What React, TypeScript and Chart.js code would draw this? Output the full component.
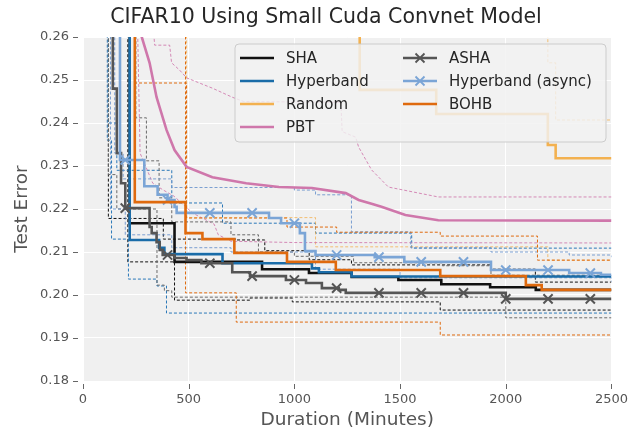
import React, { useEffect, useRef } from "react";
import { Chart, registerables } from "chart.js";

Chart.register(...registerables);

// Best test error reached so far against wall-clock minutes.
// Each curve is a step function given by its change points (minute, error):
// the error holds from one change point until the next one.
// Values above 0.26 sit outside the plotted window and are clipped.

const SHA_MIN = [0, 221, 433, 847, 1069, 1271, 1492, 1695, 1926, 2142, 2500];
const SHA_ERR = [0.27, 0.2167, 0.2077, 0.206, 0.2051, 0.2042, 0.2035, 0.2025, 0.2018, 0.2012, 0.2012];
const SHA_HI_MIN = [0, 120, 380, 725, 860, 1070, 1270, 1930, 2140, 2500];
const SHA_HI_ERR = [0.27, 0.2178, 0.213, 0.2128, 0.2103, 0.2082, 0.207, 0.206, 0.203, 0.203];
const SHA_LO_MIN = [0, 212, 433, 790, 990, 1690, 2500];
const SHA_LO_ERR = [0.27, 0.2077, 0.1988, 0.1993, 0.1984, 0.1965, 0.1965];

const HB_MIN = [0, 221, 360, 385, 660, 1083, 1116, 1271, 2500];
const HB_ERR = [0.27, 0.2128, 0.211, 0.2095, 0.2074, 0.2062, 0.2053, 0.2043, 0.2043];
const HB_HI_MIN = [0, 120, 160, 420, 660, 1100, 1555, 2500];
const HB_HI_ERR = [0.27, 0.24, 0.229, 0.2214, 0.2167, 0.2144, 0.2109, 0.2109];
const HB_LO_MIN = [0, 115, 135, 215, 350, 395, 2500];
const HB_LO_ERR = [0.27, 0.236, 0.213, 0.2037, 0.2021, 0.1958, 0.1958];

const RND_MIN = [0, 1309, 1671, 2199, 2236, 2500];
const RND_ERR = [0.27, 0.2477, 0.2421, 0.2349, 0.2318, 0.2318];
const RND_HI_MIN = [0, 2199, 2236, 2500];
const RND_HI_ERR = [0.27, 0.254, 0.2407, 0.2407];
const RND_LO_MIN = [0, 490, 1100, 2199, 2500];
const RND_LO_ERR = [0.27, 0.218, 0.2112, 0.2081, 0.2081];

const PBT_MIN = [215, 278, 315, 348, 395, 433, 490, 612, 772, 927, 1083, 1243, 1304, 1365, 1412, 1525, 1681, 2500];
const PBT_ERR = [0.27, 0.26, 0.254, 0.246, 0.2384, 0.2337, 0.2298, 0.2274, 0.226, 0.2251, 0.2249, 0.2237, 0.2221, 0.2212, 0.2205, 0.2186, 0.2174, 0.2173];
const PBT_HI_MIN = [320, 339, 410, 419, 457, 490, 612, 706, 760, 1220, 1226, 1290, 1304, 1365, 1445, 1681, 2500];
const PBT_HI_ERR = [0.27, 0.2581, 0.2581, 0.254, 0.2523, 0.2505, 0.2481, 0.246, 0.245, 0.2448, 0.238, 0.2367, 0.2344, 0.2291, 0.2251, 0.2228, 0.2228];
const PBT_LO_MIN = [255, 270, 330, 380, 430, 520, 620, 640, 700, 1000, 2500];
const PBT_LO_ERR = [0.27, 0.233, 0.226, 0.2244, 0.223, 0.219, 0.2165, 0.214, 0.2125, 0.2122, 0.2121];

const ASHA_MIN = [0, 141, 160, 180, 200, 315, 325, 348, 363, 377, 433, 490, 560, 706, 790, 960, 1055, 1130, 1210, 1243, 2000, 2500];
const ASHA_ERR = [0.27, 0.248, 0.233, 0.226, 0.2202, 0.2158, 0.2144, 0.2123, 0.2105, 0.2093, 0.2086, 0.2081, 0.2074, 0.2053, 0.2044, 0.2035, 0.2028, 0.2016, 0.2012, 0.2005, 0.1991, 0.1991];
const ASHA_HI_MIN = [0, 250, 300, 360, 420, 700, 830, 1000, 1280, 1700, 1930, 2500];
const ASHA_HI_ERR = [0.27, 0.2412, 0.2312, 0.2226, 0.217, 0.214, 0.21, 0.209, 0.2075, 0.2068, 0.2046, 0.2046];
const ASHA_LO_MIN = [0, 120, 160, 350, 385, 420, 1930, 2000, 2500];
const ASHA_LO_ERR = [0.27, 0.228, 0.22, 0.2023, 0.201, 0.1995, 0.1995, 0.1947, 0.1947];

const ASYNC_MIN = [0, 175, 290, 353, 400, 433, 443, 880, 937, 1026, 1050, 1100, 1380, 1520, 1930, 2300, 2450, 2500];
const ASYNC_ERR = [0.27, 0.2314, 0.2253, 0.2233, 0.2221, 0.2205, 0.2191, 0.2179, 0.2167, 0.2144, 0.2102, 0.2093, 0.2088, 0.2077, 0.2058, 0.2051, 0.2047, 0.2047];
const ASYNC_HI_MIN = [0, 150, 190, 420, 1000, 1100, 1270, 1550, 1930, 2300, 2500];
const ASYNC_HI_ERR = [0.27, 0.233, 0.227, 0.225, 0.2244, 0.2233, 0.2147, 0.211, 0.21, 0.2093, 0.2088];
const ASYNC_LO_MIN = [0, 130, 200, 420, 700, 1100, 1500, 2500];
const ASYNC_LO_ERR = [0.27, 0.22, 0.214, 0.211, 0.21, 0.206, 0.204, 0.203];

const BOHB_MIN = [0, 245, 485, 565, 716, 965, 1196, 1690, 2095, 2170, 2500];
const BOHB_ERR = [0.27, 0.2216, 0.2144, 0.213, 0.2098, 0.2077, 0.2058, 0.2044, 0.2023, 0.2012, 0.2012];
const BOHB_HI_MIN = [0, 245, 490, 965, 1200, 1690, 2150, 2500];
const BOHB_HI_ERR = [0.27, 0.2493, 0.2179, 0.2158, 0.2146, 0.2137, 0.2081, 0.2081];
const BOHB_LO_MIN = [0, 485, 725, 1690, 2500];
const BOHB_LO_ERR = [0.27, 0.2005, 0.1937, 0.1907, 0.1907];

// Minutes at which the asynchronous methods carry an "x" marker.
const MARK_MIN = [200, 400, 600, 800, 1000, 1200, 1400, 1600, 1800, 2000, 2200, 2400];

const X_TICKS = [0, 500, 1000, 1500, 2000, 2500];
const Y_TICKS = [0.18, 0.19, 0.2, 0.21, 0.22, 0.23, 0.24, 0.25, 0.26];

const TITLE = "CIFAR10 Using Small Cuda Convnet Model";
const X_LABEL = "Duration (Minutes)";
const Y_LABEL = "Test Error";

const FONT = "'DejaVu Sans', 'Liberation Sans', sans-serif";

const C = {
  sha: "#111111",
  hb: "#1a6ca8",
  rnd: "rgba(243,170,62,0.9)",
  pbt: "#cf77ab",
  asha: "#555555",
  async: "#7ba5d6",
  bohb: "#df6a0e",
};

const LEGEND = [
  { label: "SHA", color: C.sha, marker: false },
  { label: "Hyperband", color: C.hb, marker: false },
  { label: "Random", color: C.rnd, marker: false },
  { label: "PBT", color: C.pbt, marker: false },
  { label: "ASHA", color: C.asha, marker: true },
  { label: "Hyperband (async)", color: C.async, marker: true },
  { label: "BOHB", color: C.bohb, marker: false },
];

const pts = (xs: number[], ys: number[]) => xs.map((x, i) => ({ x, y: ys[i] }));

const stepAt = (xs: number[], ys: number[], t: number) => {
  let v = ys[0];
  for (let i = 0; i < xs.length; i++) if (xs[i] <= t) v = ys[i];
  return v;
};

// Chart.js "before" stepping: horizontal run first, then the drop at the change point.
const mainLine = (label: string, xs: number[], ys: number[], color: string, stepped = true) => ({
  label,
  data: pts(xs, ys),
  borderColor: color,
  borderWidth: 2.6,
  stepped: stepped ? ("before" as const) : false,
  pointRadius: 0,
  fill: false,
});

const bound = (xs: number[], ys: number[], color: string, stepped = true) => ({
  label: "",
  data: pts(xs, ys),
  borderColor: color,
  borderWidth: 1,
  borderDash: [3, 2],
  stepped: stepped ? ("before" as const) : false,
  pointRadius: 0,
  fill: false,
});

const markers = (xs: number[], ys: number[], color: string) => ({
  label: "",
  data: MARK_MIN.map((m) => ({ x: m, y: stepAt(xs, ys, m) })),
  showLine: false,
  borderColor: color,
  backgroundColor: color,
  pointStyle: "crossRot" as const,
  pointRadius: 6.5,
  pointBorderWidth: 2,
});

const decor = {
  id: "decor",
  beforeDraw(chart: any) {
    const { ctx, chartArea: a } = chart;
    ctx.save();
    ctx.fillStyle = "#f0f0f0";
    ctx.fillRect(a.left, a.top, a.right - a.left, a.bottom - a.top);
    ctx.restore();
  },
  afterDraw(chart: any) {
    const { ctx, chartArea: a, scales } = chart;
    ctx.save();

    // title
    ctx.fillStyle = "#262626";
    ctx.font = `20.5px ${FONT}`;
    ctx.textAlign = "center";
    ctx.textBaseline = "middle";
    ctx.fillText(TITLE, 326, 18);

    // tick marks
    ctx.strokeStyle = "#666666";
    ctx.lineWidth = 1;
    for (const v of Y_TICKS) {
      const y = Math.round(scales.y.getPixelForValue(v)) + 0.5;
      ctx.beginPath();
      ctx.moveTo(a.left - 10, y);
      ctx.lineTo(a.left - 5, y);
      ctx.stroke();
    }
    for (const v of X_TICKS) {
      const x = Math.round(scales.x.getPixelForValue(v)) + 0.5;
      ctx.beginPath();
      ctx.moveTo(x, a.bottom + 3);
      ctx.lineTo(x, a.bottom + 8);
      ctx.stroke();
    }

    // legend
    const lx = a.left + 152;
    const ly = a.top + 7;
    const lw = 371;
    const lh = 98;
    const r = 4;
    ctx.beginPath();
    ctx.moveTo(lx + r, ly);
    ctx.lineTo(lx + lw - r, ly);
    ctx.quadraticCurveTo(lx + lw, ly, lx + lw, ly + r);
    ctx.lineTo(lx + lw, ly + lh - r);
    ctx.quadraticCurveTo(lx + lw, ly + lh, lx + lw - r, ly + lh);
    ctx.lineTo(lx + r, ly + lh);
    ctx.quadraticCurveTo(lx, ly + lh, lx, ly + lh - r);
    ctx.lineTo(lx, ly + r);
    ctx.quadraticCurveTo(lx, ly, lx + r, ly);
    ctx.closePath();
    ctx.fillStyle = "rgba(242,242,242,0.82)";
    ctx.fill();
    ctx.strokeStyle = "rgba(200,200,200,0.9)";
    ctx.stroke();

    ctx.font = `15px ${FONT}`;
    ctx.textAlign = "left";
    ctx.textBaseline = "middle";
    LEGEND.forEach((item, i) => {
      const col = i < 4 ? 0 : 1;
      const row = col === 0 ? i : i - 4;
      const sx = lx + (col === 0 ? 5 : 168);
      const sy = ly + 14 + row * 23;
      ctx.strokeStyle = item.color;
      ctx.lineWidth = 2.6;
      ctx.beginPath();
      ctx.moveTo(sx, sy);
      ctx.lineTo(sx + 34, sy);
      ctx.stroke();
      if (item.marker) {
        const cx = sx + 17;
        ctx.lineWidth = 1.8;
        ctx.beginPath();
        ctx.moveTo(cx - 4.5, sy - 4.5);
        ctx.lineTo(cx + 4.5, sy + 4.5);
        ctx.moveTo(cx - 4.5, sy + 4.5);
        ctx.lineTo(cx + 4.5, sy - 4.5);
        ctx.stroke();
      }
      ctx.fillStyle = "#262626";
      ctx.fillText(item.label, sx + 46, sy + 1);
    });
    ctx.restore();
  },
};

export default function App() {
  const ref = useRef<HTMLCanvasElement | null>(null);

  useEffect(() => {
    if (!ref.current) return;
    const datasets: any[] = [
      mainLine("BOHB", BOHB_MIN, BOHB_ERR, C.bohb),
      markers(ASYNC_MIN, ASYNC_ERR, C.async),
      mainLine("Hyperband (async)", ASYNC_MIN, ASYNC_ERR, C.async),
      markers(ASHA_MIN, ASHA_ERR, C.asha),
      mainLine("ASHA", ASHA_MIN, ASHA_ERR, C.asha),
      mainLine("PBT", PBT_MIN, PBT_ERR, C.pbt, false),
      mainLine("Random", RND_MIN, RND_ERR, C.rnd),
      mainLine("Hyperband", HB_MIN, HB_ERR, C.hb),
      mainLine("SHA", SHA_MIN, SHA_ERR, C.sha),
      bound(BOHB_HI_MIN, BOHB_HI_ERR, C.bohb),
      bound(BOHB_LO_MIN, BOHB_LO_ERR, C.bohb),
      bound(ASYNC_HI_MIN, ASYNC_HI_ERR, "rgba(110,150,205,0.9)"),
      bound(ASYNC_LO_MIN, ASYNC_LO_ERR, "rgba(110,150,205,0.9)"),
      bound(ASHA_HI_MIN, ASHA_HI_ERR, "#6a6a6a"),
      bound(ASHA_LO_MIN, ASHA_LO_ERR, "#6a6a6a"),
      bound(PBT_HI_MIN, PBT_HI_ERR, "rgba(207,119,171,0.85)", false),
      bound(PBT_LO_MIN, PBT_LO_ERR, "rgba(207,119,171,0.85)", false),
      bound(RND_HI_MIN, RND_HI_ERR, "rgba(243,170,62,0.7)"),
      bound(RND_LO_MIN, RND_LO_ERR, "rgba(243,170,62,0.7)"),
      bound(HB_HI_MIN, HB_HI_ERR, "#2a78b8"),
      bound(HB_LO_MIN, HB_LO_ERR, "#2a78b8"),
      bound(SHA_HI_MIN, SHA_HI_ERR, "#111111"),
      bound(SHA_LO_MIN, SHA_LO_ERR, "#111111"),
    ];

    const chart = new Chart(ref.current, {
      type: "line",
      data: { datasets },
      plugins: [decor],
      options: {
        animation: false,
        responsive: false,
        layout: { padding: { left: 0, right: 25, top: 37, bottom: 0 } },
        plugins: { legend: { display: false }, tooltip: { enabled: false } },
        scales: {
          x: {
            type: "linear",
            min: 0,
            max: 2500,
            border: { display: false },
            grid: { color: "#ffffff", lineWidth: 1, drawTicks: false },
            afterBuildTicks: (s: any) => {
              s.ticks = X_TICKS.map((v) => ({ value: v }));
            },
            afterFit: (s: any) => {
              s.height = 51;
            },
            ticks: {
              padding: 11,
              color: "#555555",
              font: { family: FONT, size: 13 },
              callback: (v: any) => String(v),
            },
            title: {
              display: true,
              text: X_LABEL,
              color: "#555555",
              font: { family: FONT, size: 18.5 },
              padding: { top: 0, bottom: 1 },
            },
          },
          y: {
            type: "linear",
            min: 0.18,
            max: 0.26,
            border: { display: false },
            grid: { color: "#ffffff", lineWidth: 1, drawTicks: false },
            afterBuildTicks: (s: any) => {
              s.ticks = Y_TICKS.map((v) => ({ value: v }));
            },
            afterFit: (s: any) => {
              s.width = 83;
            },
            ticks: {
              padding: 14,
              color: "#555555",
              font: { family: FONT, size: 13 },
              callback: (v: any) => Number(v).toFixed(2),
            },
            title: {
              display: true,
              text: Y_LABEL,
              color: "#555555",
              font: { family: FONT, size: 18.5 },
              padding: { top: 11, bottom: 0 },
            },
          },
        },
      },
    });
    return () => chart.destroy();
  }, []);

  return (
    <div style={{ position: "fixed", left: 0, top: 0, width: 639, height: 432, background: "#ffffff" }}>
      <canvas ref={ref} width={639} height={432} style={{ display: "block" }} />
    </div>
  );
}
